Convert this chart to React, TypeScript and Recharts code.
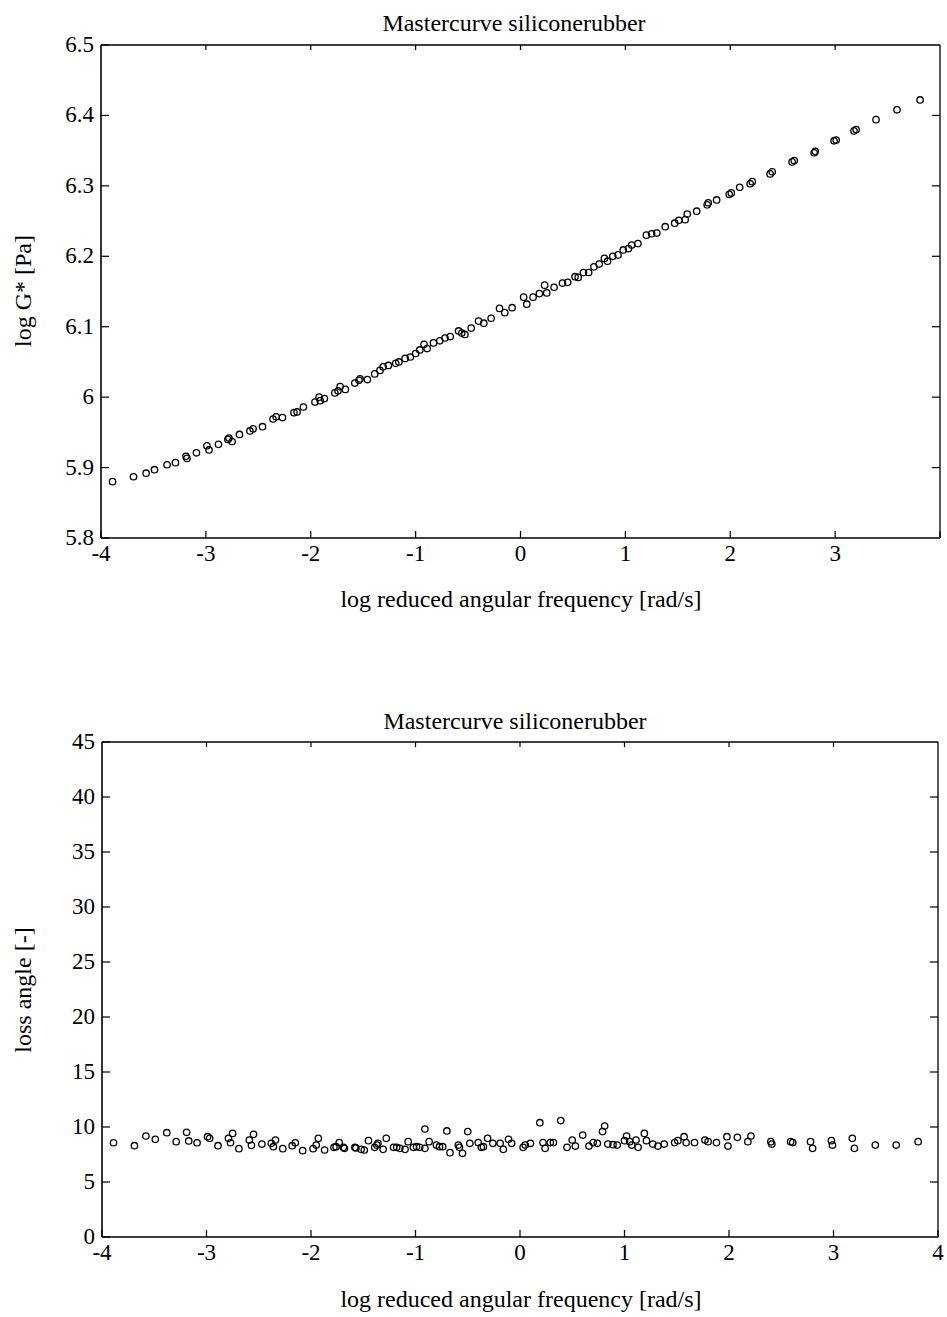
import { ScatterChart, Scatter, XAxis, YAxis } from 'recharts'

const FONT = '"Liberation Serif", "Times New Roman", serif'

const freqTicks = [-4, -3, -2, -1, 0, 1, 2, 3, 4]
const modulusFreqLabels = ['-4', '-3', '-2', '-1', '0', '1', '2', '3', '']
const lossFreqLabels = ['-4', '-3', '-2', '-1', '0', '1', '2', '3', '4']
const modulusTicks = [5.8, 5.9, 6, 6.1, 6.2, 6.3, 6.4, 6.5]
const modulusTickLabels = ['5.8', '5.9', '6', '6.1', '6.2', '6.3', '6.4', '6.5']
const lossTicks = [0, 5, 10, 15, 20, 25, 30, 35, 40, 45]
const lossTickLabels = ['0', '5', '10', '15', '20', '25', '30', '35', '40', '45']

// log reduced angular frequency vs log G*
const modulusFreq = [
  -3.89, -3.69, -3.57, -3.49, -3.37, -3.29, -3.19, -3.18, -3.09, -2.99, -2.97, -2.88, -2.79, -2.78, -2.75,
  -2.68, -2.58, -2.55, -2.46, -2.36, -2.33, -2.27, -2.16, -2.13, -2.07, -1.96, -1.92, -1.91, -1.87, -1.77,
  -1.74, -1.72, -1.67, -1.58, -1.54, -1.53, -1.46, -1.39, -1.34, -1.31, -1.26, -1.19, -1.16, -1.1, -1.05,
  -1.0, -0.96, -0.92, -0.89, -0.83, -0.77, -0.72, -0.67, -0.59, -0.56, -0.53, -0.47, -0.4, -0.35, -0.28,
  -0.2, -0.15, -0.08, 0.03, 0.06, 0.12, 0.18, 0.23, 0.25, 0.32, 0.4, 0.45, 0.52, 0.55, 0.6,
  0.65, 0.7, 0.75, 0.8, 0.83, 0.88, 0.93, 0.98, 1.03, 1.06, 1.12, 1.2, 1.25, 1.3, 1.38,
  1.47, 1.51, 1.57, 1.59, 1.68, 1.78, 1.79, 1.87, 1.99, 2.01, 2.09, 2.19, 2.21, 2.38, 2.4,
  2.59, 2.61, 2.8, 2.81, 2.99, 3.01, 3.18, 3.2, 3.39, 3.59, 3.81,
]
const modulusValue = [
  5.88, 5.887, 5.892, 5.897, 5.904, 5.907, 5.916, 5.913, 5.921, 5.931, 5.925, 5.933, 5.94, 5.942, 5.937,
  5.947, 5.952, 5.955, 5.958, 5.969, 5.972, 5.971, 5.978, 5.979, 5.986, 5.993, 6.0, 5.995, 5.998, 6.006,
  6.009, 6.015, 6.011, 6.02, 6.024, 6.026, 6.025, 6.033, 6.038, 6.043, 6.045, 6.048, 6.05, 6.055, 6.057,
  6.062, 6.067, 6.075, 6.069, 6.077, 6.08, 6.084, 6.086, 6.094, 6.091, 6.089, 6.098, 6.108, 6.105, 6.112,
  6.126, 6.12, 6.127, 6.142, 6.132, 6.142, 6.147, 6.159, 6.148, 6.156, 6.162, 6.163, 6.171, 6.17, 6.177,
  6.177, 6.185, 6.189, 6.197, 6.193, 6.2, 6.202, 6.209, 6.211, 6.216, 6.218, 6.23, 6.232, 6.233, 6.242,
  6.247, 6.251, 6.252, 6.26, 6.264, 6.273, 6.276, 6.28, 6.288, 6.29, 6.298, 6.303, 6.306, 6.317, 6.32,
  6.334, 6.336, 6.347, 6.349, 6.364, 6.365, 6.378, 6.38, 6.394, 6.408, 6.422,
]

// log reduced angular frequency vs loss angle
const lossFreq = [
  -3.89, -3.69, -3.58, -3.49, -3.38, -3.29, -3.19, -3.17, -3.09, -2.99, -2.97, -2.89, -2.79, -2.77, -2.75,
  -2.69, -2.59, -2.57, -2.55, -2.47, -2.38, -2.36, -2.34, -2.27, -2.18, -2.15, -2.08, -1.98, -1.95, -1.93,
  -1.87, -1.78, -1.76, -1.73, -1.69, -1.68, -1.58, -1.57, -1.52, -1.49, -1.45, -1.39, -1.37, -1.36, -1.31,
  -1.28, -1.21, -1.18, -1.15, -1.1, -1.07, -1.02, -0.99, -0.96, -0.91, -0.91, -0.87, -0.8, -0.77, -0.74,
  -0.7, -0.67, -0.59, -0.58, -0.55, -0.5, -0.48, -0.4, -0.37, -0.35, -0.31, -0.26, -0.19, -0.16, -0.11,
  -0.08, 0.03, 0.05, 0.1, 0.19, 0.22, 0.24, 0.29, 0.32, 0.39, 0.45, 0.5, 0.53, 0.6, 0.66,
  0.7, 0.74, 0.79, 0.81, 0.84, 0.89, 0.93, 1.0, 1.02, 1.05, 1.07, 1.11, 1.13, 1.19, 1.21,
  1.27, 1.32, 1.38, 1.48, 1.51, 1.57, 1.59, 1.67, 1.77, 1.8, 1.88, 1.98, 1.99, 2.08, 2.18,
  2.21, 2.4, 2.41, 2.59, 2.61, 2.78, 2.8, 2.98, 2.99, 3.18, 3.2, 3.4, 3.6, 3.81,
]
const lossValue = [
  8.57, 8.3, 9.18, 8.88, 9.48, 8.67, 9.52, 8.73, 8.57, 9.12, 8.97, 8.3, 8.97, 8.57, 9.42,
  8.03, 8.82, 8.33, 9.33, 8.45, 8.52, 8.21, 8.82, 8.03, 8.3, 8.57, 7.85, 8.03, 8.36, 8.97,
  7.91, 8.15, 8.21, 8.58, 8.15, 8.06, 8.15, 8.09, 7.97, 7.91, 8.76, 8.15, 8.36, 8.52, 7.97,
  8.97, 8.15, 8.15, 8.06, 7.97, 8.67, 8.15, 8.21, 8.15, 8.06, 9.82, 8.67, 8.36, 8.21, 8.21,
  9.64, 7.67, 8.36, 8.15, 7.61, 9.58, 8.52, 8.58, 8.15, 8.21, 8.97, 8.52, 8.52, 7.97, 8.88,
  8.52, 8.15, 8.36, 8.52, 10.39, 8.58, 8.06, 8.58, 8.58, 10.58, 8.15, 8.82, 8.27, 9.27, 8.27,
  8.58, 8.52, 9.58, 10.09, 8.45, 8.39, 8.36, 8.76, 9.18, 8.67, 8.36, 8.82, 8.15, 9.42, 8.76,
  8.45, 8.27, 8.45, 8.58, 8.76, 9.12, 8.58, 8.58, 8.82, 8.67, 8.58, 9.12, 8.27, 9.06, 8.67,
  9.18, 8.67, 8.45, 8.67, 8.58, 8.67, 8.06, 8.76, 8.36, 8.97, 8.06, 8.36, 8.36, 8.67,
]

const modulusData = modulusFreq.map((x, i) => ({ x, y: modulusValue[i] }))
const lossData = lossFreq.map((x, i) => ({ x, y: lossValue[i] }))

function labelFor(ticks: number[], labels: string[], v: number) {
  const i = ticks.indexOf(v)
  return i >= 0 ? labels[i] : String(v)
}

// ticks point inwards, labels sit outside the frame
function BottomTick({ x, y, payload, ticks, labels }: any) {
  return (
    <g>
      <line x1={x} y1={y} x2={x} y2={y - 7} stroke="#000" strokeWidth={1.2} />
      <text x={x} y={y + 23} textAnchor="middle" fontSize={23} fontFamily={FONT} fill="#000">
        {labelFor(ticks, labels, payload.value)}
      </text>
    </g>
  )
}

function TopTick({ x, y }: any) {
  return <line x1={x} y1={y} x2={x} y2={y + 5} stroke="#000" strokeWidth={1.2} />
}

function LeftTick({ x, y, payload, ticks, labels }: any) {
  return (
    <g>
      <line x1={x} y1={y} x2={x + 8} y2={y} stroke="#000" strokeWidth={1.2} />
      <text x={x - 7} y={y + 7} textAnchor="end" fontSize={23} fontFamily={FONT} fill="#000">
        {labelFor(ticks, labels, payload.value)}
      </text>
    </g>
  )
}

function RightTick({ x, y }: any) {
  return <line x1={x} y1={y} x2={x - 8} y2={y} stroke="#000" strokeWidth={1.2} />
}

function OpenCircle({ cx, cy }: any) {
  return <circle cx={cx} cy={cy} r={3.2} fill="none" stroke="#000" strokeWidth={1.3} />
}

function Panel({ top, height, frame, data, xLabels, yDomain, yTicks, yLabels }: any) {
  return (
    <div style={{ position: 'absolute', left: 0, top }}>
      <ScatterChart width={947} height={height} margin={{ top: 0, right: 0, bottom: 0, left: 0 }}>
        <XAxis
          dataKey="x"
          type="number"
          domain={[-4, 4]}
          ticks={freqTicks}
          interval={0}
          allowDataOverflow
          height={frame.bottom}
          tickSize={0}
          tickMargin={0}
          tickLine={false}
          axisLine={{ stroke: '#000', strokeWidth: 1.6 }}
          tick={(p: any) => <BottomTick {...p} ticks={freqTicks} labels={xLabels} />}
        />
        <XAxis
          xAxisId="top"
          orientation="top"
          dataKey="x"
          type="number"
          domain={[-4, 4]}
          ticks={freqTicks.slice(1, -1)}
          interval={0}
          allowDataOverflow
          height={frame.top}
          tickSize={0}
          tickMargin={0}
          tickLine={false}
          axisLine={{ stroke: '#000', strokeWidth: 1.3 }}
          tick={(p: any) => <TopTick {...p} />}
        />
        <YAxis
          dataKey="y"
          type="number"
          domain={yDomain}
          ticks={yTicks}
          interval={0}
          allowDataOverflow
          width={frame.left}
          tickSize={0}
          tickMargin={0}
          tickLine={false}
          axisLine={{ stroke: '#000', strokeWidth: 1.6 }}
          tick={(p: any) => <LeftTick {...p} ticks={yTicks} labels={yLabels} />}
        />
        <YAxis
          yAxisId="right"
          orientation="right"
          dataKey="y"
          type="number"
          domain={yDomain}
          ticks={yTicks.slice(1, -1)}
          interval={0}
          allowDataOverflow
          width={frame.right}
          tickSize={0}
          tickMargin={0}
          tickLine={false}
          axisLine={{ stroke: '#000', strokeWidth: 1.3 }}
          tick={(p: any) => <RightTick {...p} />}
        />
        <Scatter data={data} shape={<OpenCircle />} isAnimationActive={false} />
      </ScatterChart>
    </div>
  )
}

export default function App() {
  const textStyle = { fontFamily: FONT, fill: '#000' }
  return (
    <div style={{ position: 'absolute', left: 0, top: 0, width: 947, height: 1317, background: '#fff' }}>
      <Panel
        top={0}
        height={660}
        frame={{ top: 45, right: 7, bottom: 122, left: 101 }}
        data={modulusData}
        xLabels={modulusFreqLabels}
        yDomain={[5.8, 6.5]}
        yTicks={modulusTicks}
        yLabels={modulusTickLabels}
      />
      <Panel
        top={660}
        height={657}
        frame={{ top: 82, right: 9, bottom: 80, left: 102 }}
        data={lossData}
        xLabels={lossFreqLabels}
        yDomain={[0, 45]}
        yTicks={lossTicks}
        yLabels={lossTickLabels}
      />
      <svg width={947} height={1317} style={{ position: 'absolute', left: 0, top: 0, pointerEvents: 'none' }}>
        <text x={514} y={31} textAnchor="middle" fontSize={24} {...textStyle}>Mastercurve siliconerubber</text>
        <text x={521} y={607} textAnchor="middle" fontSize={24} {...textStyle}>log reduced angular frequency [rad/s]</text>
        <text x={31} y={291} textAnchor="middle" fontSize={24} transform="rotate(-90 31 291)" {...textStyle}>log G* [Pa]</text>
        <text x={515} y={729} textAnchor="middle" fontSize={24} {...textStyle}>Mastercurve siliconerubber</text>
        <text x={521} y={1307} textAnchor="middle" fontSize={24} {...textStyle}>log reduced angular frequency [rad/s]</text>
        <text x={31} y={990} textAnchor="middle" fontSize={24} transform="rotate(-90 31 990)" {...textStyle}>loss angle [-]</text>
      </svg>
    </div>
  )
}
